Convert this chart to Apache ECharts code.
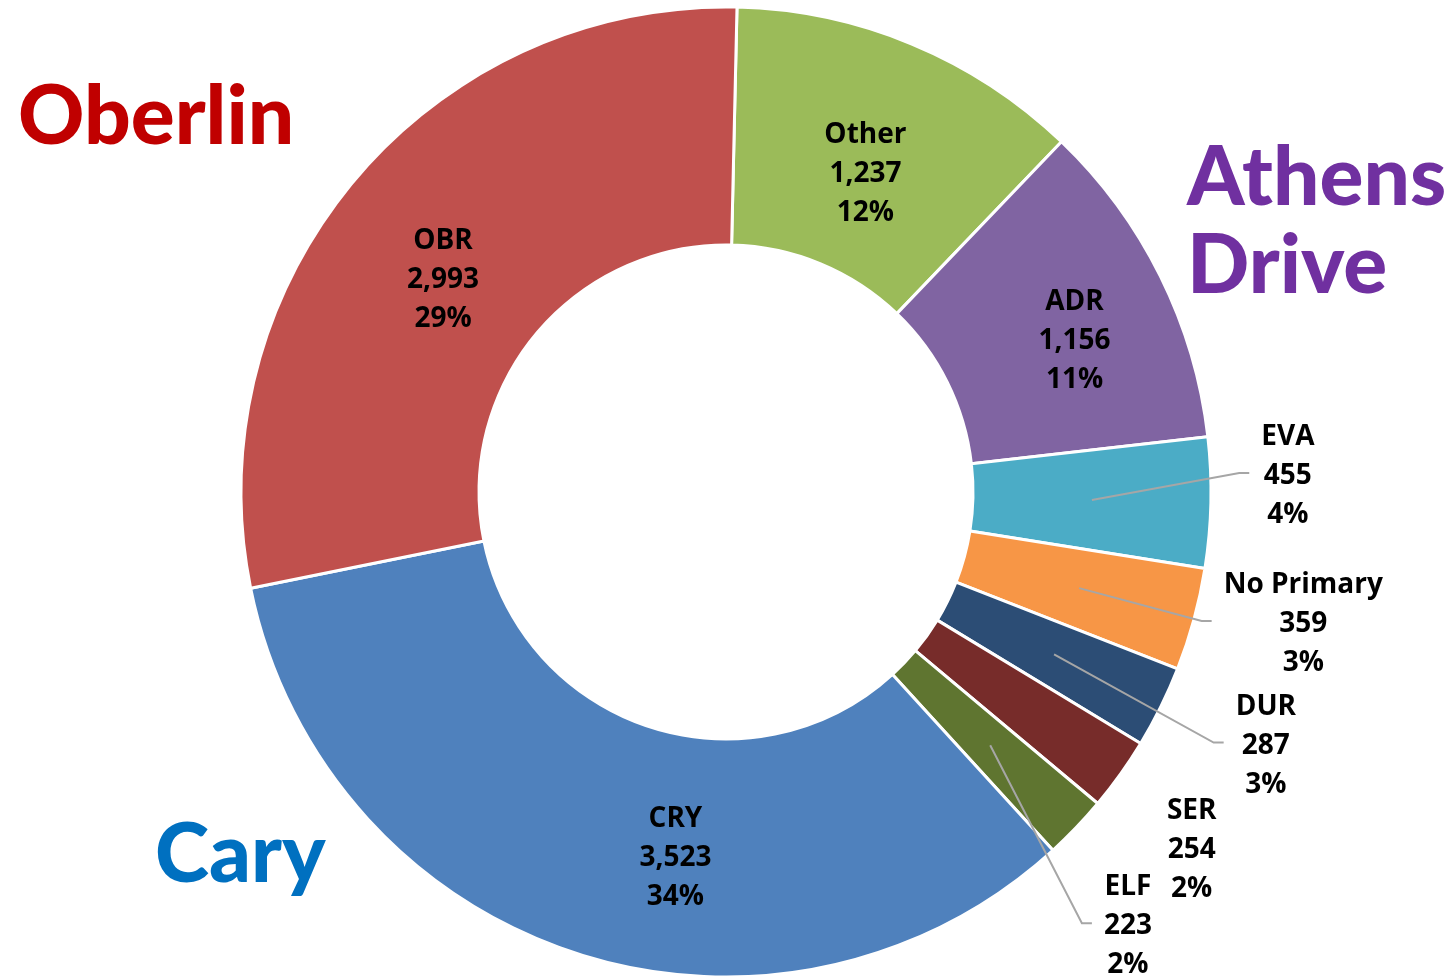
<!DOCTYPE html>
<html>
<head>
<meta charset="utf-8">
<script src="https://cdn.jsdelivr.net/npm/echarts@6/dist/echarts.min.js"></script>
<style>
  html, body { margin: 0; padding: 0; background: #fff; }
  #main { width: 1455px; height: 979px; }
</style>
</head>
<body>
<div id="main"></div>
<script>
// slice order, clockwise from the top
const schools = ["Other", "ADR", "EVA", "No Primary", "DUR", "SER", "ELF", "CRY", "OBR"];
const students = [1237, 1156, 455, 359, 287, 254, 223, 3523, 2993];
const sliceColors = ["#9BBB59", "#8064A2", "#4BACC6", "#F79646", "#2C4D75", "#772C2A", "#5F7530", "#4F81BD", "#C0504D"];
// small slices get their label outside with a leader line
const outsideLabel = ["EVA", "No Primary", "DUR", "SER", "ELF"];
const noLeader = ["SER"];

// label nudges (px) so the labels sit where the excel chart put them
const labelNudge = {
  Other: [-2, 23],
  ADR: [18, 13],
  CRY: [64, 15],
  OBR: [0, 25],
  EVA: [-28, -29],
  "No Primary": [8, -23],
  DUR: [11, -8],
  SER: [-14, 15],
  ELF: [-24, 26],
};

const myChart = echarts.init(document.getElementById("main"));

const labelFont = {
  fontFamily: "Open Sans",
  fontWeight: "bold",
  fontSize: 28,
  lineHeight: 39,
  color: "#000",
  textBorderWidth: 0,
};

const fmt = function (p) {
  return p.name + "\n" + p.value.toLocaleString("en-US") + "\n" + Math.round(p.percent) + "%";
};

// the ring itself, with the labels of the big slices
const ringData = schools.map(function (name, i) {
  const item = { name: name, value: students[i], itemStyle: { color: sliceColors[i] } };
  if (outsideLabel.indexOf(name) >= 0) item.label = { show: false };
  return item;
});

// invisible pie out to mid-ring, only for the outside labels so the leader starts inside the ring
const leaderData = schools.map(function (name, i) {
  const outside = outsideLabel.indexOf(name) >= 0;
  return {
    name: name,
    value: students[i],
    label: { show: outside },
    labelLine: { show: outside && noLeader.indexOf(name) < 0 },
  };
});

const bigTitle = function (text, color, left, top) {
  return {
    text: text,
    left: left,
    top: top,
    padding: 0,
    textStyle: {
      fontFamily: "Lato",
      fontWeight: 900,
      fontSize: 82,
      lineHeight: 88,
      color: color,
    },
  };
};

myChart.setOption({
  animation: false,
  title: [
    bigTitle("Oberlin", "#C00000", 18, 74),
    bigTitle("Athens\nDrive", "#7030A0", 1187, 135),
    bigTitle("Cary", "#0070C0", 155, 812),
  ],
  series: [
    {
      type: "pie",
      center: [726, 492],
      radius: [247, 485],
      startAngle: 88.7,
      clockwise: true,
      avoidLabelOverlap: false,
      itemStyle: { borderColor: "#fff", borderWidth: 3 },
      label: Object.assign({ position: "inside", formatter: fmt }, labelFont),
      labelLayout: function (p) {
        const n = labelNudge[schools[p.dataIndex]] || [0, 0];
        return { dx: n[0], dy: n[1] };
      },
      data: ringData,
    },
    {
      type: "pie",
      z: 5,
      silent: true,
      center: [726, 492],
      radius: [0, 366],
      startAngle: 88.7,
      clockwise: true,
      avoidLabelOverlap: false,
      itemStyle: { color: "rgba(0,0,0,0)", borderWidth: 0 },
      label: Object.assign({ position: "outside", formatter: fmt }, labelFont),
      labelLine: {
        length: 20,
        length2: 12,
        lineStyle: { color: "#A6A6A6", width: 2 },
      },
      // label centred beyond the rim; leader from mid-ring to the left side of the label
      labelLayout: function (p) {
        if (!p.labelLinePoints) return {};
        const a = p.labelLinePoints[0];
        const b = p.labelLinePoints[1];
        let dx = b[0] - a[0];
        let dy = b[1] - a[1];
        const len = Math.sqrt(dx * dx + dy * dy) || 1;
        dx /= len;
        dy /= len;
        const n = labelNudge[schools[p.dataIndex]] || [0, 0];
        const cx = a[0] + dx * 224 + n[0];
        const cy = a[1] + dy * 224 + n[1];
        const end = cx - p.labelRect.width / 2 - 12;
        return {
          x: cx,
          y: cy,
          align: "center",
          verticalAlign: "middle",
          labelLinePoints: [
            [a[0], a[1]],
            [end - 10, cy - 3],
            [end, cy - 3],
          ],
        };
      },
      data: leaderData,
    },
  ],
});
</script>
</body>
</html>
